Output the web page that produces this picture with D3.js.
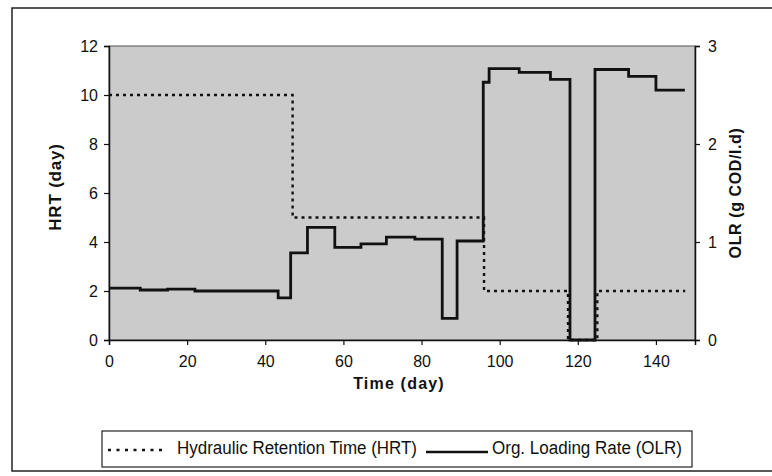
<!DOCTYPE html>
<html>
<head>
<meta charset="utf-8">
<script src="https://cdn.jsdelivr.net/npm/d3@7"></script>
<style>
  html, body { margin: 0; padding: 0; background: #ffffff; }
  svg { display: block; }
  text { font-family: "Liberation Sans", Arial, sans-serif; fill: #111; }
</style>
</head>
<body>
<svg id="chart" width="772" height="476"></svg>
<script>
// ---- data ----
const hrtDays   = [0, 47, 96, 117.5, 125, 147.5];
const hrtValues = [10, 5, 2, 0, 2, 2];

const olrDays   = [0, 8, 15, 22, 43.3, 46.5, 50.8, 57.8, 64.5, 71, 78.3, 85.3, 89.1, 95.8, 97.3, 105, 113, 118, 124.4, 133, 140, 147.4];
const olrValues = [0.53, 0.51, 0.52, 0.50, 0.43, 0.89, 1.15, 0.945, 0.98, 1.05, 1.03, 0.22, 1.01, 2.63, 2.77, 2.73, 2.66, 0, 2.76, 2.69, 2.55, 2.55];

const xTicks = [0, 20, 40, 60, 80, 100, 120, 140];
const hrtTicks = [0, 2, 4, 6, 8, 10, 12];
const olrTicks = [0, 1, 2, 3];

const xTitle = "Time (day)";
const yLeftTitle = "HRT (day)";
const yRightTitle = "OLR (g COD/l.d)";
const legendLabels = ["Hydraulic Retention Time (HRT)", "Org. Loading Rate (OLR)"];

// ---- layout ----
const svg = d3.select("#chart");
const plot = { left: 109, right: 695, top: 46, bottom: 340 };

const x = d3.scaleLinear().domain([0, 150]).range([plot.left, plot.right]);
const yL = d3.scaleLinear().domain([0, 12]).range([plot.bottom, plot.top]);
const yR = d3.scaleLinear().domain([0, 3]).range([plot.bottom, plot.top]);

// outer frame
svg.append("rect")
  .attr("x", 12).attr("y", 8).attr("width", 800).attr("height", 463)
  .attr("fill", "none").attr("stroke", "#222").attr("stroke-width", 1.5);

// plot background
svg.append("rect")
  .attr("x", plot.left).attr("y", plot.top)
  .attr("width", plot.right - plot.left).attr("height", plot.bottom - plot.top)
  .attr("fill", "#cbcbcb").attr("stroke", "#555").attr("stroke-width", 1);

// axes
const fontSize = 16;
const xAxis = svg.append("g").attr("transform", `translate(0,${plot.bottom})`)
  .call(d3.axisBottom(x).tickValues(xTicks).tickSize(5).tickPadding(11).tickFormat(d3.format("d")));
const yAxisL = svg.append("g").attr("transform", `translate(${plot.left},0)`)
  .call(d3.axisLeft(yL).tickValues(hrtTicks).tickSize(5).tickPadding(6).tickFormat(d3.format("d")));
const yAxisR = svg.append("g").attr("transform", `translate(${plot.right},0)`)
  .call(d3.axisRight(yR).tickValues(olrTicks).tickSize(5).tickPadding(8).tickFormat(d3.format("d")));

[xAxis, yAxisL, yAxisR].forEach(g => {
  g.attr("font-size", fontSize).attr("font-family", "'Liberation Sans', Arial, sans-serif");
  g.selectAll("path.domain").attr("stroke", "#111").attr("stroke-width", 1.5);
  g.selectAll(".tick line").attr("stroke", "#111").attr("stroke-width", 1.2);
  g.selectAll(".tick text").attr("font-size", fontSize).attr("fill", "#111");
});

// series lines
const hrtLine = d3.line()
  .x((d, i) => x(hrtDays[i])).y(d => yL(d)).curve(d3.curveStepAfter);
const olrLine = d3.line()
  .x((d, i) => x(olrDays[i])).y(d => yR(d)).curve(d3.curveStepAfter);

svg.append("path").datum(hrtValues)
  .attr("d", hrtLine).attr("fill", "none")
  .attr("stroke", "#111").attr("stroke-width", 2.4).attr("stroke-dasharray", "3,4");

svg.append("path").datum(olrValues)
  .attr("d", olrLine).attr("fill", "none")
  .attr("stroke", "#111").attr("stroke-width", 2.8).attr("stroke-linejoin", "miter");

// axis titles
svg.append("text")
  .attr("x", (plot.left + plot.right) / 2 - 3).attr("y", 389)
  .attr("text-anchor", "middle").attr("font-size", 16).attr("font-weight", "bold")
  .attr("letter-spacing", 1.2)
  .text(xTitle);

svg.append("text")
  .attr("transform", `translate(61,187) rotate(-90)`)
  .attr("text-anchor", "middle").attr("font-size", 17).attr("font-weight", "bold")
  .attr("letter-spacing", 0.8)
  .text(yLeftTitle);

svg.append("text")
  .attr("transform", `translate(741,193) rotate(-90)`)
  .attr("text-anchor", "middle").attr("font-size", 16).attr("font-weight", "bold")
  .attr("letter-spacing", 0.6)
  .text(yRightTitle);

// legend
const lg = svg.append("g");
lg.append("rect")
  .attr("x", 102).attr("y", 431).attr("width", 590).attr("height", 36)
  .attr("fill", "#fff").attr("stroke", "#222").attr("stroke-width", 1.2);

const legY = 449;
lg.append("line").attr("x1", 108).attr("x2", 167).attr("y1", legY + 1).attr("y2", legY + 1)
  .attr("stroke", "#111").attr("stroke-width", 2.6).attr("stroke-dasharray", "3,5.5");
lg.append("text").attr("x", 177).attr("y", legY + 5)
  .attr("font-size", 18)
  .attr("textLength", 240).attr("lengthAdjust", "spacingAndGlyphs")
  .text(legendLabels[0]);
lg.append("line").attr("x1", 426).attr("x2", 488).attr("y1", legY + 3).attr("y2", legY + 3)
  .attr("stroke", "#111").attr("stroke-width", 2.6);
lg.append("text").attr("x", 492).attr("y", legY + 5)
  .attr("font-size", 18)
  .attr("textLength", 190).attr("lengthAdjust", "spacingAndGlyphs")
  .text(legendLabels[1]);
</script>
</body>
</html>
